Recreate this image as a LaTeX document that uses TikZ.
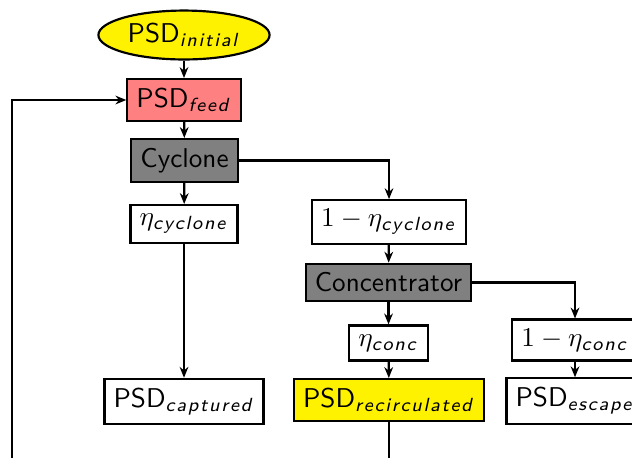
\documentclass[tikz,border=0pt]{standalone}
\usepackage{amsmath}
\usepackage{tikz}
\usetikzlibrary{arrows.meta,shapes.geometric}
% letter-spaced subscripts
\newcommand\spaced[1]{\spacedloop#1\relax}
\def\spacedloop#1{\ifx#1\relax\else#1\kern0.65pt\expandafter\spacedloop\fi}
\newcommand\sub[1]{_{\textit{\spaced{#1}}}}

\begin{document}
\begin{tikzpicture}[x=0.368pt,y=-0.368pt,font=\sffamily,
    box/.style={draw,thick,rectangle},
    startnode/.style={draw,thick,ellipse,fill=yellow,inner sep=1pt,minimum width=63pt,minimum height=18pt},
    flow/.style={thick,-{Stealth[length=4pt,width=3.2pt]}}]
    \useasboundingbox (0,0) rectangle (632,457);
    \node[startnode] (init) at (184,35) {PSD$\sub{initial}$};
    \node[box,fill=red!50] (feed) at (184,100) {PSD$\sub{feed}$};
    \node[box,fill=gray] (cyc) at (184.5,160.5) {Cyclone};
    \node[box] (etacyc) at (184,224) {$\eta\sub{cyclone}$};
    \node[box] (restcyc) at (389,222) {$1-\eta\sub{cyclone}$};
    \node[box,fill=gray] (conc) at (388.5,282.5) {Concentrator};
    \node[box] (etaconc) at (388.5,343) {$\eta\sub{conc}$};
    \node[box] (restconc) at (575,340) {$1-\eta\sub{conc}$};
    \node[box] (capt) at (184,401.5) {PSD$\sub{captured}$};
    \node[box,fill=yellow] (recirc) at (389,400) {PSD$\sub{recirculated}$};
    \node[box] (escape) at (575,401) {PSD$\sub{escape}$};
    \coordinate (loop) at (12,480);
    \draw[flow] (init) -- (feed);
    \draw[flow] (feed) -- (cyc);
    \draw[flow] (cyc) -- (etacyc);
    \draw[flow] (etacyc) -- (capt);
    \draw[flow] (cyc.east) -| (restcyc.north);
    \draw[flow] (restcyc) -- (conc);
    \draw[flow] (conc) -- (etaconc);
    \draw[flow] (etaconc) -- (recirc);
    \draw[flow] (conc.east) -| (restconc.north);
    \draw[flow] (restconc) -- (escape);
    \draw[flow] (recirc.south) |- (loop) |- (feed.west);
\end{tikzpicture}
\end{document}
